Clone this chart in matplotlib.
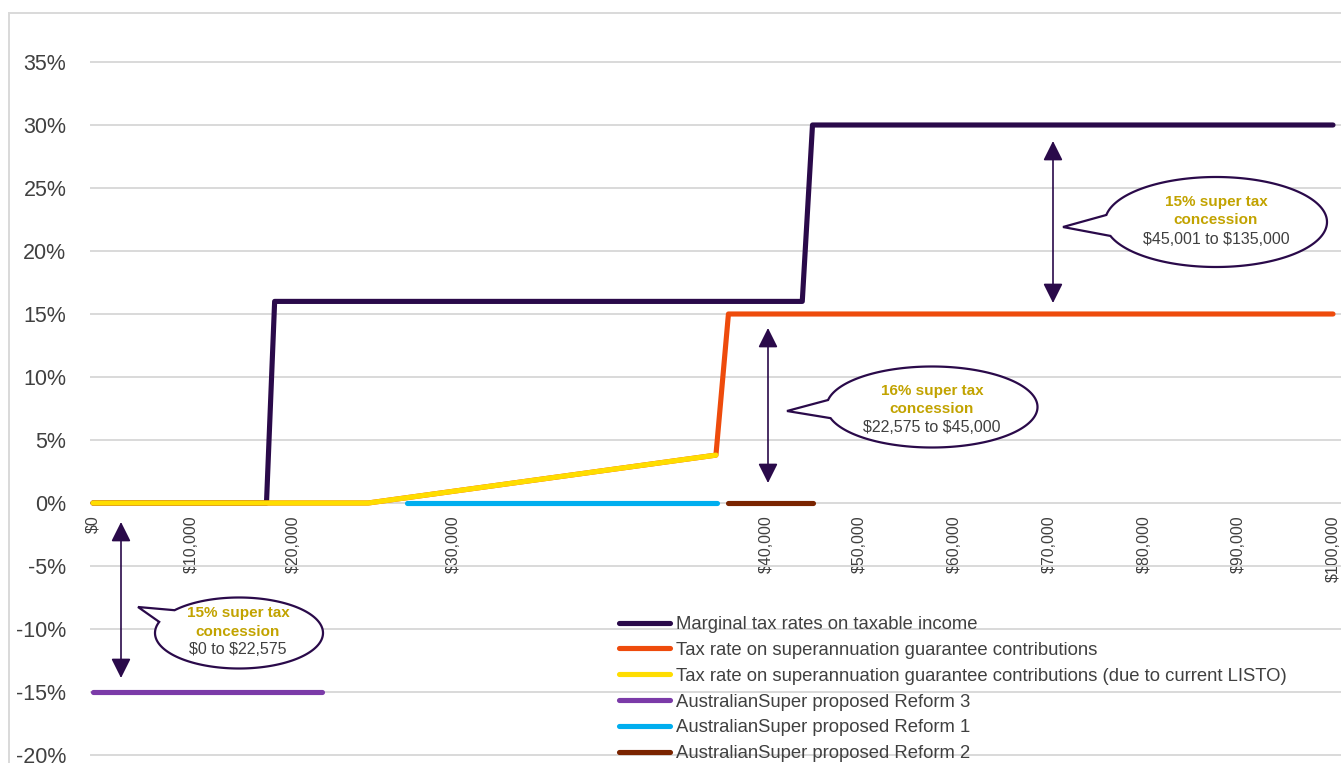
import numpy as np
import matplotlib
matplotlib.use("Agg")
import matplotlib.pyplot as plt
from matplotlib.path import Path
from matplotlib.patches import PathPatch, FancyArrowPatch, Rectangle
from matplotlib.ticker import FuncFormatter, FixedLocator, NullLocator

plt.rcParams['font.family'] = ['Liberation Sans', 'DejaVu Sans']
plt.rcParams['text.parse_math'] = False

# ---------------- data ----------------
income_ticks = [0, 10000, 20000, 30000, 40000, 50000, 60000, 70000, 80000, 90000, 100000]
income_tick_labels = ['$0', '$10,000', '$20,000', '$30,000', '$40,000', '$50,000',
                      '$60,000', '$70,000', '$80,000', '$90,000', '$100,000']
rate_ticks = [-0.20, -0.15, -0.10, -0.05, 0.0, 0.05, 0.10, 0.15, 0.20, 0.25, 0.30, 0.35]

marginal_income = [0, 17400, 18200, 43900, 45000, 100000]
marginal_rate = [0.0, 0.0, 0.16, 0.16, 0.30, 0.30]

sg_income = [0, 24700, 38400, 38800, 100000]
sg_rate = [0.0, 0.0, 0.038, 0.15, 0.15]

listo_income = [0, 24700, 38400]
listo_rate = [0.0, 0.0, 0.038]

reform3_income = [0, 21800]
reform3_rate = [-0.15, -0.15]

reform1_income = [27100, 38450]
reform1_rate = [0.0, 0.0]

reform2_income = [38800, 45000]
reform2_rate = [0.0, 0.0]

series_labels = [
    'Marginal tax rates on taxable income',
    'Tax rate on superannuation guarantee contributions',
    'Tax rate on superannuation guarantee contributions (due to current LISTO)',
    'AustralianSuper proposed Reform 3',
    'AustralianSuper proposed Reform 1',
    'AustralianSuper proposed Reform 2',
]

callout_heads = ['15% super tax', '16% super tax', '15% super tax']
callout_sub = 'concession'
callout_ranges = ['$45,001 to $135,000', '$22,575 to $45,000', '$0 to $22,575']

# ---------------- layout / style ----------------
W, H = 1341, 763
DPI = 100
colors = ['#2A0A4A', '#EE4B0C', '#FFDD00', '#7B3BA8', '#00AEEF', '#7A2400']
DARK = '#2A0A4A'
GOLD = '#C2A300'
TXT = '#404040'
GRID = '#D9D9D9'

# non-uniform (category-like) income axis: knots income -> horizontal position
AXIS_KNOT_INCOME = [-10000, 0, 10000, 20000, 30000, 40000, 50000, 60000, 70000,
                    80000, 90000, 100000, 110000]
AXIS_KNOT_POS = [-5, 93, 191, 293, 453, 766, 859, 954, 1049, 1144, 1238, 1333, 1428]


def fwd(x):
    return np.interp(x, AXIS_KNOT_INCOME, AXIS_KNOT_POS)


def inv(p):
    return np.interp(p, AXIS_KNOT_POS, AXIS_KNOT_INCOME)


fig = plt.figure(figsize=(W / DPI, H / DPI), dpi=DPI)
fig.patch.set_facecolor('white')

ax_left, ax_right = 90, 1341
ax_top, ax_bot = 13, 763
ax = fig.add_axes([ax_left / W, 1 - ax_bot / H, (ax_right - ax_left) / W, (ax_bot - ax_top) / H])
ax.set_facecolor('none')

ax.set_xscale('function', functions=(fwd, inv))
ax.set_xlim(inv(ax_left), inv(ax_right))
# y: -20% at px 755, 35% at px 62
ppp = (755 - 62) / 0.55
ax.set_ylim(-0.20 - (ax_bot - 755) / ppp, 0.35 + (62 - ax_top) / ppp)

lw = 3.7
series = [
    (marginal_income, marginal_rate),
    (sg_income, sg_rate),
    (listo_income, listo_rate),
    (reform3_income, reform3_rate),
    (reform1_income, reform1_rate),
    (reform2_income, reform2_rate),
]
handles = []
for (xs, ys), c, lab in zip(series, colors, series_labels):
    ln, = ax.plot(xs, ys, color=c, lw=lw, solid_capstyle='round',
                  solid_joinstyle='round', label=lab, zorder=3)
    handles.append(ln)

# axes styling
for s in ax.spines.values():
    s.set_visible(False)
ax.spines['bottom'].set_position(('data', 0))
ax.set_axisbelow(True)
ax.yaxis.grid(True, color=GRID, lw=1.4)
ax.xaxis.grid(False)

ax.xaxis.set_major_locator(FixedLocator(income_ticks))
ax.xaxis.set_minor_locator(NullLocator())
ax.set_xticklabels(income_tick_labels)
ax.yaxis.set_major_locator(FixedLocator(rate_ticks))
ax.yaxis.set_major_formatter(FuncFormatter(lambda v, p: f"{round(v * 100):d}%"))
ax.tick_params(axis='x', length=0, pad=9, labelsize=11.5, labelcolor=TXT, labelrotation=90)
ax.tick_params(axis='y', length=0, pad=17, labelsize=15.5, labelcolor=TXT)
for t in ax.get_xticklabels():
    t.set_va('top')
    t.set_ha('center')

# legend
leg = ax.legend(handles=handles, loc='upper left',
                bbox_to_anchor=(619 / W, 1 - 616 / H), bbox_transform=fig.transFigure,
                frameon=False, fontsize=13.3, handlelength=2.75, handletextpad=0.32,
                labelspacing=0.48, borderpad=0, borderaxespad=0)
for t in leg.get_texts():
    t.set_color(TXT)

# outer chart border
fig.add_artist(Rectangle((9 / W, -0.1), 1.2, 1 - 13 / H + 0.1, transform=fig.transFigure,
                         fill=False, ec=GRID, lw=1.4, zorder=-1))


def to_fig(x, y):
    return (x / W, 1 - y / H)


def callout(center, semi, tip, base_a, base_b):
    cx, cy = center
    a, b = semi
    ta = np.arctan2((base_a[1] - cy) / b, (base_a[0] - cx) / a)
    tb = np.arctan2((base_b[1] - cy) / b, (base_b[0] - cx) / a)
    tt = np.arctan2((tip[1] - cy) / b, (tip[0] - cx) / a)
    two_pi = 2 * np.pi
    d = (tb - ta) % two_pi
    if ((tt - ta) % two_pi) < d:
        ta, tb = tb, ta
        d = (tb - ta) % two_pi
    ts = ta + np.linspace(0, d, 240)
    pts = [to_fig(cx + a * np.cos(t), cy + b * np.sin(t)) for t in ts]
    pts.append(to_fig(*tip))
    pts.append(pts[0])
    codes = [Path.MOVETO] + [Path.LINETO] * (len(pts) - 2) + [Path.CLOSEPOLY]
    patch = PathPatch(Path(pts, codes), transform=fig.transFigure, fc='white',
                      ec=DARK, lw=1.6, zorder=6, joinstyle='miter')
    fig.add_artist(patch)


def dbl_arrow(x, y1, y2):
    arr = FancyArrowPatch(to_fig(x, y1), to_fig(x, y2), transform=fig.transFigure,
                          arrowstyle='<|-|>,head_length=1.2,head_width=0.6',
                          mutation_scale=10, lw=1.2, color=DARK,
                          shrinkA=0, shrinkB=0, zorder=5)
    fig.add_artist(arr)


dbl_arrow(1053, 141, 303)
dbl_arrow(768, 328, 483)
dbl_arrow(121, 522, 678)

callouts = [
    dict(center=(1216, 222), semi=(111, 45), tip=(1063, 227), base_a=(1107, 215), base_b=(1110, 236),
         tx=1216, ty=(202, 220, 239)),
    dict(center=(932, 407), semi=(105.5, 40.5), tip=(787, 411), base_a=(828, 400), base_b=(832, 418),
         tx=932, ty=(391, 409, 428)),
    dict(center=(239, 633), semi=(84, 35.5), tip=(138, 607), base_a=(174, 610), base_b=(160, 622),
         tx=238, ty=(613, 632, 650)),
]
for c, head, rng in zip(callouts, callout_heads, callout_ranges):
    callout(c['center'], c['semi'], c['tip'], c['base_a'], c['base_b'])
    x, y = to_fig(c['tx'], c['ty'][0])
    fig.text(x, y, head, ha='center', va='center', fontsize=11, fontweight='bold',
             color=GOLD, zorder=8)
    x, y = to_fig(c['tx'], c['ty'][1])
    fig.text(x, y, callout_sub, ha='center', va='center', fontsize=11, fontweight='bold',
             color=GOLD, zorder=8)
    x, y = to_fig(c['tx'], c['ty'][2])
    fig.text(x, y, rng, ha='center', va='center', fontsize=11.5, color=TXT, zorder=8)

fig.savefig('out.png', dpi=DPI, facecolor='white')
